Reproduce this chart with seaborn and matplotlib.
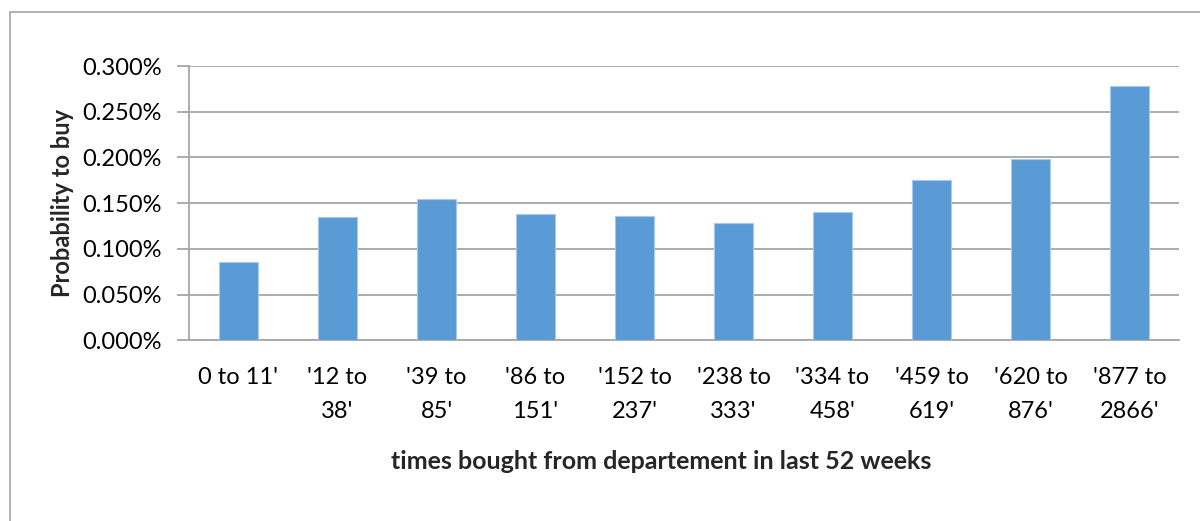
import matplotlib
matplotlib.use("Agg")
import matplotlib.pyplot as plt
from matplotlib.lines import Line2D
from matplotlib.ticker import PercentFormatter
import seaborn as sns
import pandas as pd

# Purchase-frequency buckets and the share of customers who bought
categories = ["0 to 11'", "'12 to\n38'", "'39 to\n85'", "'86 to\n151'", "'152 to\n237'",
              "'238 to\n333'", "'334 to\n458'", "'459 to\n619'", "'620 to\n876'", "'877 to\n2866'"]
probability = [0.00086, 0.00135, 0.00155, 0.001385, 0.001365,
               0.00128, 0.00140, 0.00175, 0.00198, 0.00278]
y_ticks = [0.0, 0.0005, 0.0010, 0.0015, 0.0020, 0.0025, 0.0030]

df = pd.DataFrame({"bucket": categories, "prob": probability})

sns.set_theme(style="white")
plt.rcParams["font.family"] = ["Lato", "DejaVu Sans"]

FS = 17

fig = plt.figure(figsize=(12, 5.21), dpi=100)
ax = fig.add_axes([0.1575, 0.3465, 0.825, 0.5268])

sns.barplot(data=df, x="bucket", y="prob", color="#5B9BD5", saturation=1,
            width=0.4, edgecolor="#a9c8ea", linewidth=0.8, ax=ax, zorder=3)

ax.set_ylim(0, 0.003)
ax.set_xlim(-0.5, len(categories) - 0.5)
ax.set_yticks(y_ticks)
ax.yaxis.set_major_formatter(PercentFormatter(xmax=1, decimals=3))
ax.yaxis.grid(True, color="#a6a6a6", linewidth=1.3, zorder=0)
ax.set_axisbelow(True)

for side in ["top", "right"]:
    ax.spines[side].set_visible(False)
for side in ["left", "bottom"]:
    ax.spines[side].set_color("#a6a6a6")
    ax.spines[side].set_linewidth(1.3)

ax.tick_params(axis="y", which="major", left=True, length=9, width=1.3,
               color="#a6a6a6", labelsize=FS, labelcolor="black", pad=10.5)
ax.tick_params(axis="x", bottom=False, labelsize=FS, labelcolor="black", pad=13)
for lbl in ax.get_xticklabels():
    lbl.set_linespacing(1.75)
    lbl.set_verticalalignment("top")

ax.set_ylabel("Probability to buy", fontsize=FS, fontweight="bold", labelpad=6)
ax.set_xlabel("times bought from departement in last 52 weeks", fontsize=18,
              fontweight="bold")
ax.xaxis.set_label_coords(0.477, -0.40)

# Chart frame (left and top edges)
H = 521.0
W = 1200.0
fig.add_artist(Line2D([10 / W, 10 / W], [0, 1 - 12 / H], transform=fig.transFigure,
                      color="#a6a6a6", linewidth=1.2))
fig.add_artist(Line2D([10 / W, 1], [1 - 12 / H, 1 - 12 / H], transform=fig.transFigure,
                      color="#a6a6a6", linewidth=1.2))

fig.savefig("out.png", dpi=100, facecolor="white")
